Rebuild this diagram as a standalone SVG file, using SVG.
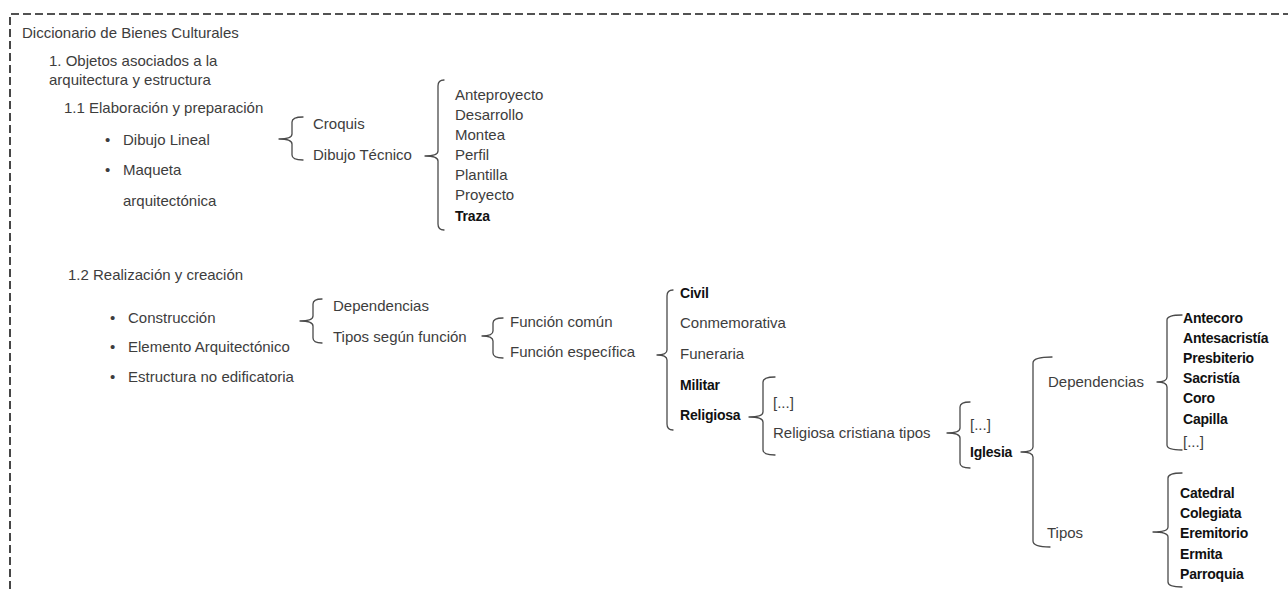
<svg xmlns="http://www.w3.org/2000/svg" width="1288" height="589" viewBox="0 0 1288 589">
<style>
text{font-family:"Liberation Sans",Arial,sans-serif;font-size:15px;fill:#3d3d3d}
.b{font-weight:bold;fill:#111;font-size:14px;letter-spacing:-0.2px}
.br{fill:none;stroke:#4a4a4a;stroke-width:1.3;stroke-linejoin:round;stroke-linecap:round}
.frame{fill:none;stroke:#1a1a1a;stroke-width:1.6;stroke-dasharray:8 4}
</style>
<rect width="1288" height="589" fill="#fff"/>
<path class="frame" d="M10,589 L10,14 L1288,14"/>

<g id="n-root"><text x="22" y="38">Diccionario de Bienes Culturales</text></g>
<g id="n-1"><text x="49" y="66">1. Objetos asociados a la</text><text x="49" y="85">arquitectura y estructura</text></g>
<g id="n-1-1"><text x="64" y="113">1.1 Elaboración y preparación</text></g>
<g id="n-dibujo-lineal"><text x="105" y="145">•</text><text x="123" y="145">Dibujo Lineal</text></g>
<g id="n-maqueta"><text x="105" y="175">•</text><text x="123" y="175">Maqueta</text><text x="123" y="206">arquitectónica</text></g>
<g id="n-croquis"><text x="313" y="129">Croquis</text></g>
<g id="n-dibujo-tecnico"><text x="313" y="160">Dibujo Técnico</text></g>
<g id="n-dt-items">
<text x="455" y="100">Anteproyecto</text>
<text x="455" y="120">Desarrollo</text>
<text x="455" y="140">Montea</text>
<text x="455" y="160">Perfil</text>
<text x="455" y="180">Plantilla</text>
<text x="455" y="200">Proyecto</text>
<text x="455" y="221" class="b">Traza</text>
</g>

<g id="n-1-2"><text x="68" y="280">1.2 Realización y creación</text></g>
<g id="n-construccion"><text x="110" y="323">•</text><text x="128" y="323">Construcción</text></g>
<g id="n-elemento"><text x="110" y="352">•</text><text x="128" y="352">Elemento Arquitectónico</text></g>
<g id="n-estructura"><text x="110" y="382">•</text><text x="128" y="382">Estructura no edificatoria</text></g>
<g id="n-dependencias1"><text x="333" y="311">Dependencias</text></g>
<g id="n-tipos-funcion"><text x="333" y="342">Tipos según función</text></g>
<g id="n-funcion-comun"><text x="510" y="327">Función común</text></g>
<g id="n-funcion-especifica"><text x="510" y="357">Función específica</text></g>
<g id="n-civil"><text x="680" y="298" class="b">Civil</text></g>
<g id="n-conmemorativa"><text x="680" y="328">Conmemorativa</text></g>
<g id="n-funeraria"><text x="680" y="359">Funeraria</text></g>
<g id="n-militar"><text x="680" y="390" class="b">Militar</text></g>
<g id="n-religiosa"><text x="680" y="420" class="b">Religiosa</text></g>
<g id="n-etc1"><text x="773" y="408">[...]</text></g>
<g id="n-rel-crist"><text x="773" y="438">Religiosa cristiana tipos</text></g>
<g id="n-etc2"><text x="970" y="430">[...]</text></g>
<g id="n-iglesia"><text x="970" y="457" class="b">Iglesia</text></g>
<g id="n-dependencias2"><text x="1048" y="387">Dependencias</text></g>
<g id="n-tipos"><text x="1047" y="538">Tipos</text></g>
<g id="n-dep-items">
<text x="1183" y="323" class="b">Antecoro</text>
<text x="1183" y="343" class="b">Antesacristía</text>
<text x="1183" y="363" class="b">Presbiterio</text>
<text x="1183" y="383" class="b">Sacristía</text>
<text x="1183" y="403" class="b">Coro</text>
<text x="1183" y="424" class="b">Capilla</text>
<text x="1183" y="447">[...]</text>
</g>
<g id="n-tipos-items">
<text x="1180" y="498" class="b">Catedral</text>
<text x="1180" y="518" class="b">Colegiata</text>
<text x="1180" y="538" class="b">Eremitorio</text>
<text x="1180" y="559" class="b">Ermita</text>
<text x="1180" y="579" class="b">Parroquia</text>
</g>

<g id="connectors">
<path class="br" d="M303,117 Q292,117 292,122 L292,134 Q292,139 279,139 Q292,139 292,144 L292,155 Q292,160 303,160"/>
<path class="br" d="M444,80 Q438,80 438,86 L438,151 Q438,156 425,156 Q438,156 438,161 L438,224 Q438,230 444,230"/>
<path class="br" d="M322,299 Q313,299 313,304 L313,316 Q313,321 300,321 Q313,321 313,326 L313,338 Q313,343 322,343"/>
<path class="br" d="M503,318 Q493,318 493,323 L493,331 Q493,336 482,336 Q493,336 493,341 L493,353 Q493,358 503,358"/>
<path class="br" d="M673,290 Q667,290 667,296 L667,350 Q667,355 657,355 Q667,355 667,360 L667,424 Q667,430 673,430"/>
<path class="br" d="M775,377 Q763,377 763,382 L763,412 Q763,417 749,417 Q763,417 763,422 L763,450 Q763,455 775,455"/>
<path class="br" d="M970,402 Q960,402 960,407 L960,428 Q960,433 947,433 Q960,433 960,438 L960,463 Q960,468 970,468"/>
<path class="br" d="M1052,357 Q1033,357 1033,363 L1033,447 Q1033,452 1021,452 Q1033,452 1033,457 L1033,541 Q1033,547 1050,547"/>
<path class="br" d="M1182,315 Q1167,315 1167,320 L1167,377 Q1167,382 1157,382 Q1167,382 1167,387 L1167,445 Q1167,450 1182,450"/>
<path class="br" d="M1182,473 Q1168,473 1168,478 L1168,527 Q1168,532 1153,532 Q1168,532 1168,537 L1168,582 Q1168,587 1182,587"/>
</g>
</svg>
